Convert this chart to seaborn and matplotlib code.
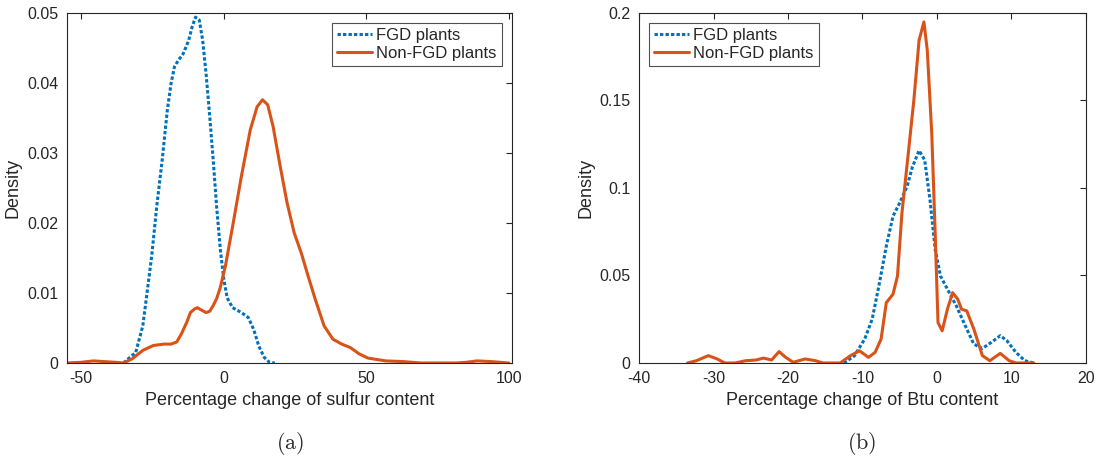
import numpy as np
import pandas as pd
import matplotlib
matplotlib.use("Agg")
import matplotlib.pyplot as plt
import seaborn as sns

# panel (a): sulfur content densities
sulfur_fgd_x = [-35.2, -30.9, -28.4, -27.2, -25.3, -23.5, -21.6, -19.8, -18.5, -17.3, -16.0,
                -14.2, -12.3, -11.1, -9.9, -8.6, -7.4, -6.2, -4.9, -3.7, -2.5, -1.2, 0.0,
                1.2, 3.1, 6.2, 8.6, 10.5, 12.3, 14.2, 16.0, 17.9]
sulfur_fgd_y = [0.0, 0.0015, 0.0053, 0.0091, 0.0152, 0.0224, 0.0290, 0.0361, 0.0399, 0.0423, 0.0432,
                0.0442, 0.0461, 0.0480, 0.0494, 0.0490, 0.0461, 0.0413, 0.0351, 0.0290, 0.0223, 0.0162, 0.0120,
                0.0093, 0.0079, 0.0072, 0.0065, 0.0048, 0.0024, 0.0008, 0.0001, 0.0]

sulfur_non_x = [-55.0, -50.0, -45.7, -42.0, -38.0, -35.2, -32.1, -28.4, -24.7, -21.0, -18.5, -16.5,
                -14.8, -13.0, -11.7, -10.3, -9.3, -8.0, -6.2, -4.9, -3.7, -2.5, -1.2, 0.6, 3.1, 6.2, 9.3,
                11.7, 13.6, 15.4, 17.3, 19.8, 22.2, 24.7, 27.2, 29.6, 32.1, 35.2, 38.3, 41.4, 44.4,
                47.5, 50.6, 56.8, 63.0, 69.1, 75.0, 81.5, 85.0, 88.9, 93.8, 97.0, 100.0]
sulfur_non_y = [0.0, 0.0001, 0.0003, 0.0002, 0.0001, 0.0, 0.0006, 0.0018, 0.0025, 0.0027, 0.0027, 0.0030,
                0.0042, 0.0058, 0.0072, 0.0077, 0.0079, 0.0076, 0.0072, 0.0074, 0.0082, 0.0092, 0.0108, 0.0139,
                0.0195, 0.0267, 0.0333, 0.0366, 0.0376, 0.0369, 0.0338, 0.0281, 0.0229, 0.0186, 0.0157,
                0.0124, 0.0091, 0.0053, 0.0034, 0.0027, 0.0022, 0.0013, 0.0007, 0.0003, 0.0002, 0.0, 0.0,
                0.0, 0.0001, 0.0003, 0.0002, 0.0001, 0.0]

# panel (b): Btu content densities
btu_fgd_x = [-12.5, -11.1, -9.7, -8.7, -7.8, -6.8, -5.9, -5.0, -4.0, -3.3, -2.4, -1.65, -0.94,
             -0.24, 0.47, 1.65, 2.6, 3.8, 4.95, 6.1, 7.3, 8.5, 9.4, 10.6, 11.8, 13.0]
btu_fgd_y = [0.0, 0.004, 0.0137, 0.025, 0.044, 0.0668, 0.0839, 0.0915, 0.101, 0.112, 0.1214, 0.116,
             0.0934, 0.0649, 0.0497, 0.0402, 0.0326, 0.0213, 0.0108, 0.0083, 0.0118, 0.0156, 0.0127,
             0.0061, 0.0013, 0.0]

btu_non_x = [-33.5, -32.3, -30.7, -29.5, -28.5, -27.1, -25.7, -24.3, -23.3, -22.2, -21.2, -20.3,
             -19.3, -17.7, -16.3, -15.3, -13.0, -11.6, -10.4, -9.2, -8.3, -7.5, -6.8, -5.9, -5.3,
             -4.7, -3.8, -3.1, -2.4, -1.75, -1.3, -0.7, -0.24, 0.14, 0.7, 1.4, 2.1, 2.8, 3.3, 4.0,
             4.95, 6.1, 7.1, 8.5, 9.7, 10.6, 12.0, 13.0]
btu_non_y = [0.0, 0.0013, 0.0042, 0.0023, 0.0, 0.0, 0.0013, 0.0017, 0.0028, 0.0017, 0.0065, 0.0032,
             0.0004, 0.0023, 0.0013, 0.0, 0.0, 0.0042, 0.007, 0.0032, 0.0061, 0.0137, 0.0345, 0.0393,
             0.0497, 0.0858, 0.1218, 0.1503, 0.1844, 0.1949, 0.1787, 0.1313, 0.0744, 0.0231, 0.0184,
             0.0307, 0.0402, 0.0364, 0.0307, 0.0298, 0.0194, 0.0042, 0.0013, 0.0055, 0.0013, 0.0,
             0.0, 0.0]

labels = ["FGD plants", "Non-FGD plants"]
blue = "#0072BD"
orange = "#D95319"
dark = "#262626"

sns.set_style("white")
plt.rcParams["font.family"] = ["Liberation Sans", "DejaVu Sans"]
plt.rcParams["mathtext.fontset"] = "cm"
plt.rcParams["axes.unicode_minus"] = False

fig = plt.figure(figsize=(10.98, 4.63), dpi=100)
ax1 = fig.add_axes([0.061, 0.216, 0.405, 0.756])
ax2 = fig.add_axes([0.582, 0.216, 0.407, 0.756])

panels = [
    (ax1, sulfur_fgd_x, sulfur_fgd_y, sulfur_non_x, sulfur_non_y),
    (ax2, btu_fgd_x, btu_fgd_y, btu_non_x, btu_non_y),
]
for ax, fx, fy, nx, ny in panels:
    sns.lineplot(x=fx, y=fy, ax=ax, color=blue, lw=2.2, linestyle=(0, (1.1, 0.7)),
                 label=labels[0])
    sns.lineplot(x=nx, y=ny, ax=ax, color=orange, lw=2.2, label=labels[1])

ax1.set_xlim(-55, 101)
ax1.set_ylim(0, 0.05)
ax1.set_xticks([-50, 0, 50, 100])
ax1.set_yticks([0, 0.01, 0.02, 0.03, 0.04, 0.05])
ax1.set_yticklabels(["0", "0.01", "0.02", "0.03", "0.04", "0.05"])
ax1.set_xlabel("Percentage change of sulfur content")

ax2.set_xlim(-40, 20)
ax2.set_ylim(0, 0.2)
ax2.set_xticks([-40, -30, -20, -10, 0, 10, 20])
ax2.set_yticks([0, 0.05, 0.1, 0.15, 0.2])
ax2.set_yticklabels(["0", "0.05", "0.1", "0.15", "0.2"])
ax2.set_xlabel("Percentage change of Btu content")

for ax, loc in [(ax1, "upper right"), (ax2, "upper left")]:
    ax.set_ylabel("Density", fontsize=13, color=dark, labelpad=4)
    ax.xaxis.label.set_fontsize(13)
    ax.xaxis.label.set_color(dark)
    ax.xaxis.labelpad = 4
    ax.tick_params(direction="in", length=4, width=0.8, top=True, right=True,
                   labelsize=11.5, colors=dark, pad=6)
    for s in ax.spines.values():
        s.set_color(dark)
        s.set_linewidth(0.8)
    leg = ax.legend(loc=loc, fontsize=12, frameon=True, fancybox=False,
                    handlelength=2.1, handletextpad=0.25, borderpad=0.3,
                    labelspacing=0.2, borderaxespad=0.6)
    leg.get_frame().set_edgecolor(dark)
    leg.get_frame().set_linewidth(0.8)

fig.text(0.264, 0.043, r"$\mathrm{(a)}$", ha="center", va="center", fontsize=16)
fig.text(0.785, 0.043, r"$\mathrm{(b)}$", ha="center", va="center", fontsize=16)

fig.savefig("out.png", dpi=100)
